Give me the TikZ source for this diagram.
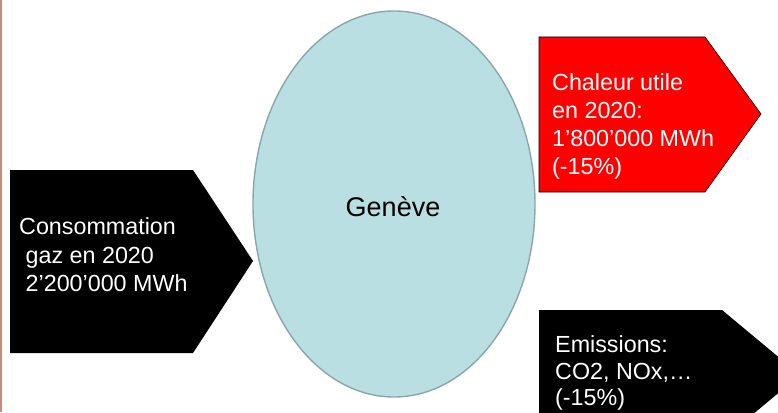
\documentclass[tikz,border=0pt]{standalone}
\usepackage{fontspec}
\setmainfont{Liberation Sans}
\definecolor{edgered}{HTML}{C98A78}
\definecolor{ellfill}{HTML}{B9DFE2}
\definecolor{elldraw}{HTML}{8AA6A8}
\definecolor{redbox}{HTML}{FF0000}
\tikzset{
  boxtxt/.style={anchor=base west, inner sep=0pt, text=white, font=\fontsize{23.3}{28}\selectfont},
  gentxt/.style={inner sep=0pt, text=black, font=\fontsize{27}{32}\selectfont},
}
\begin{document}
\begin{tikzpicture}[x=1pt,y=-1pt]
\useasboundingbox (0,0) rectangle (778,412);
\begin{scope}
\clip (0,0) rectangle (778,412);
% left edge line
\draw[edgered, line width=2pt] (1,0) -- (1,412);
% left black arrow
\fill[black] (10,170) -- (193,170) -- (253,261) -- (193,353) -- (10,353) -- cycle;
% ellipse
\draw[elldraw, fill=ellfill, line width=1.4pt] (394,204) ellipse [x radius=141, y radius=193];
% red arrow
\draw[black, fill=redbox, line width=0.6pt] (539,37) -- (705,37) -- (761,114) -- (705,192) -- (539,192) -- cycle;
% bottom black arrow
\fill[black] (539,310) -- (722,310) -- (800,375) -- (722,440) -- (539,440) -- cycle;
\end{scope}
% texts
\node[gentxt] (gen) at (393,207) {Genève};
\node[boxtxt] (c1) at (19,234) {Consommation};
\node[boxtxt] (c2) at (19,263) {\ gaz en 2020};
\node[boxtxt] (c3) at (19,291) {\ 2’200’000 MWh};
\node[boxtxt] (r1) at (552,90) {Chaleur utile};
\node[boxtxt] (r2) at (552,118) {en 2020:};
\node[boxtxt] (r3) at (552,146) {1’800’000 MWh};
\node[boxtxt] (r4) at (552,174) {(-15\%)};
\node[boxtxt] (e1) at (555,352) {Emissions:};
\node[boxtxt] (e2) at (555,379) {CO2, NOx,…};
\node[boxtxt] (e3) at (555,405) {(-15\%)};
\end{tikzpicture}
\end{document}
